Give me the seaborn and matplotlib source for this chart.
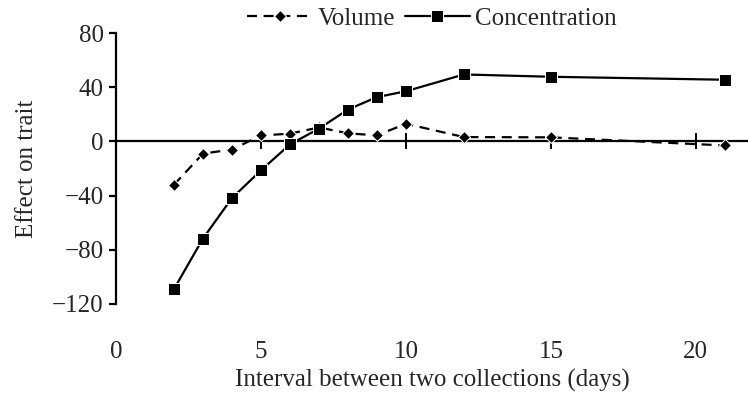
import matplotlib
matplotlib.use("Agg")
import matplotlib.pyplot as plt
import seaborn as sns

# values
days = [2, 3, 4, 5, 6, 7, 8, 9, 10, 12, 15, 21]
volume = [-32, -9, -6, 4.4, 5.7, 10.3, 6, 4.4, 13, 3.2, 3, -3]
concentration = [-109, -71.7, -41.8, -21.4, -2.2, 9.4, 23.5, 32.7, 37, 49.4, 47.7, 45.5]

x_ticks = [0, 5, 10, 15, 20]
y_ticks = [-120, -80, -40, 0, 40, 80]

sns.set_theme(style="white")
plt.rcParams['font.family'] = ['Liberation Serif', 'DejaVu Serif']
plt.rcParams['axes.unicode_minus'] = True

FS = 18

fig = plt.figure(figsize=(7.48, 3.97), dpi=100)
ax = fig.add_axes([116 / 748, 1 - 304 / 397, 1 - 116 / 748, (304 - 33) / 397])

sns.lineplot(x=days, y=volume, ax=ax, color='black', marker='D', markersize=6,
             linestyle=(0, (4.5, 3)), linewidth=1.6, label='Volume')
sns.lineplot(x=days, y=concentration, ax=ax, color='black', marker='s', markersize=8.5,
             linewidth=1.6, label='Concentration')

ax.set_xlim(0, 21.8)
ax.set_ylim(-120, 80)
ax.set_yticks(y_ticks)
ax.set_xticks(x_ticks)

for s in ['top', 'right', 'bottom']:
    ax.spines[s].set_visible(False)
ax.spines['left'].set_color('black')
ax.spines['left'].set_linewidth(1.6)

ax.tick_params(axis='y', direction='out', length=5, width=1.6, color='black',
               labelsize=FS, pad=4, left=True)
ax.tick_params(axis='x', length=0, labelsize=FS, pad=27, bottom=True)

# zero line with crossing ticks
zx = ax.secondary_xaxis(0, transform=ax.transData)
zx.set_xticks([5, 10, 15, 20])
zx.set_xticklabels([])
zx.spines['bottom'].set_linewidth(1.6)
zx.spines['bottom'].set_color('black')
zx.tick_params(direction='inout', length=12, width=1.4, color='black')

ax.set_xlabel('Interval between two collections (days)', fontsize=FS, labelpad=4)
ax.set_ylabel('Effect on trait', fontsize=FS, labelpad=10)

ax.legend(loc='lower center', bbox_to_anchor=(0.5, 0.975), ncol=2, frameon=False,
          fontsize=FS, handlelength=2.6, handletextpad=0.2, columnspacing=0.4,
          borderaxespad=0)

fig.savefig('out.png', dpi=100)
